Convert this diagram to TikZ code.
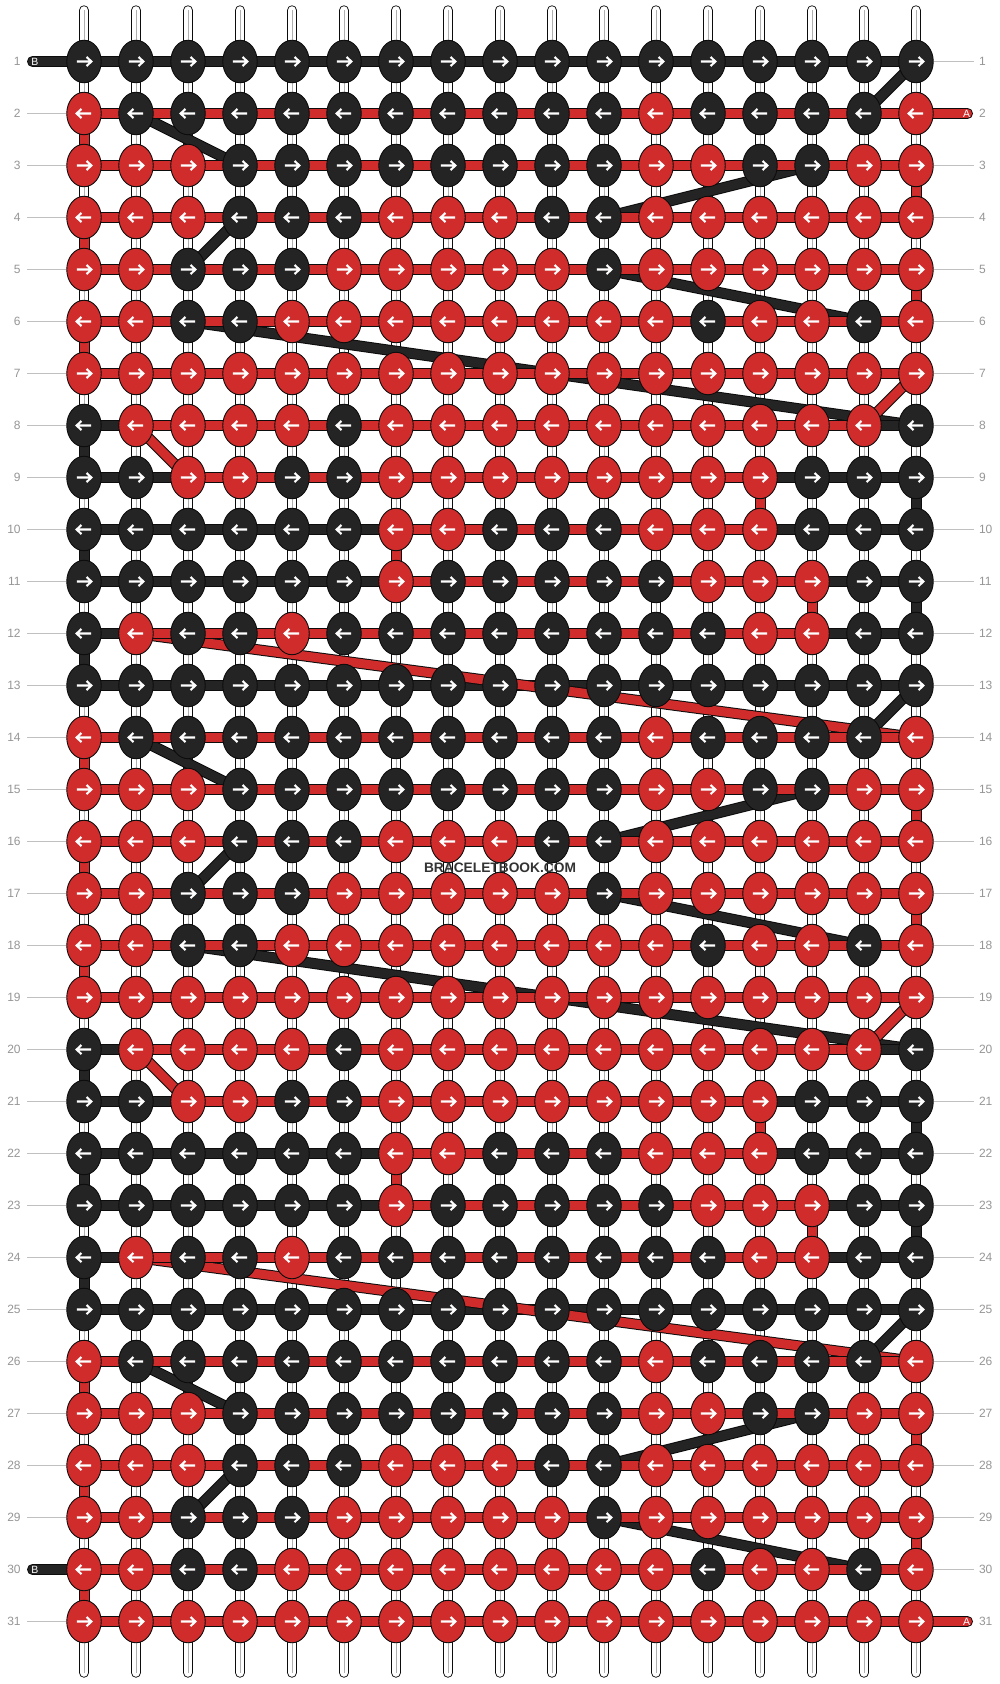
\documentclass[tikz,border=0pt]{standalone}
\usepackage{fontspec}
\setmainfont{Liberation Sans}
\usetikzlibrary{shapes.geometric}
\definecolor{kR}{RGB}{208,44,44}
\definecolor{kB}{RGB}{36,36,36}
\definecolor{outl}{RGB}{12,12,12}
\definecolor{numgray}{RGB}{150,150,150}
\definecolor{tickgray}{RGB}{192,192,192}
\definecolor{midgray}{RGB}{175,175,175}
\definecolor{wm}{RGB}{51,51,51}
\expandafter\def\csname pat1\endcsname{B,B,B,B,B,B,B,B,B,B,B,B,B,B,B,B,B}
\expandafter\def\csname pat2\endcsname{R,B,B,B,B,B,B,B,B,B,B,R,B,B,B,B,R}
\expandafter\def\csname pat3\endcsname{R,R,R,B,B,B,B,B,B,B,B,R,R,B,B,R,R}
\expandafter\def\csname pat4\endcsname{R,R,R,B,B,B,R,R,R,B,B,R,R,R,R,R,R}
\expandafter\def\csname pat5\endcsname{R,R,B,B,B,R,R,R,R,R,B,R,R,R,R,R,R}
\expandafter\def\csname pat6\endcsname{R,R,B,B,R,R,R,R,R,R,R,R,B,R,R,B,R}
\expandafter\def\csname pat7\endcsname{R,R,R,R,R,R,R,R,R,R,R,R,R,R,R,R,R}
\expandafter\def\csname pat8\endcsname{B,R,R,R,R,B,R,R,R,R,R,R,R,R,R,R,B}
\expandafter\def\csname pat9\endcsname{B,B,R,R,B,B,R,R,R,R,R,R,R,R,B,B,B}
\expandafter\def\csname pat10\endcsname{B,B,B,B,B,B,R,R,B,B,B,R,R,R,B,B,B}
\expandafter\def\csname pat11\endcsname{B,B,B,B,B,B,R,B,B,B,B,B,R,R,R,B,B}
\expandafter\def\csname pat12\endcsname{B,R,B,B,R,B,B,B,B,B,B,B,B,R,R,B,B}
\begin{document}
\begin{tikzpicture}[x=1pt,y=-1pt,
  knot/.style={ellipse, draw=outl, line width=0.9pt, minimum width=34.5pt, minimum height=42.5pt, inner sep=0pt},
  arr/.style={white, line width=2.1pt, line join=miter, line cap=butt},
  strand/.style={draw=outl, line width=0.9pt, double=white, double distance=8.4pt, line cap=round},
  strandmid/.style={draw=midgray, line width=0.7pt},
  lineB/.style={draw=outl, line width=1pt, double=kB, double distance=9pt, line cap=round},
  lineR/.style={draw=outl, line width=1pt, double=kR, double distance=9pt, line cap=round},
  tick/.style={draw=tickgray, line width=1pt},
  numL/.style={anchor=east, inner sep=0pt, text=numgray, font=\fontsize{12}{12}\selectfont},
  numR/.style={anchor=west, inner sep=0pt, text=numgray, font=\fontsize{12}{12}\selectfont},
  tailtxt/.style={inner sep=0pt, text=white, font=\fontsize{10.5}{10.5}\selectfont}
]
\fill[white] (0,0) rectangle (1000,1684);
\useasboundingbox (0,0) rectangle (1000,1684);
% grid coordinates
\foreach \r in {1,...,31} {
  \foreach \c in {1,...,17} {
    \coordinate (p-\r-\c) at ({32+52*\c},{9.5+52*\r});
  }
}
% vertical strings
\foreach \c in {1,...,17} {
  \coordinate (st-\c) at ({32+52*\c},10.4);
  \coordinate (sb-\c) at ({32+52*\c},1672.6);
  \draw[strand] (st-\c) -- (sb-\c);
  \draw[strandmid] (st-\c) -- (sb-\c);
}
% black connectors
\foreach \ra/\ca/\rb/\cb in {1/17/2/16, 2/2/3/4, 3/15/4/11, 4/4/5/3, 5/11/6/16, 6/3/8/17,
  8/1/9/1, 9/17/10/17, 10/1/11/1, 11/17/12/17, 12/1/13/1, 13/17/14/16,
  14/2/15/4, 15/15/16/11, 16/4/17/3, 17/11/18/16, 18/3/20/17,
  20/1/21/1, 21/17/22/17, 22/1/23/1, 23/17/24/17, 24/1/25/1, 25/17/26/16,
  26/2/27/4, 27/15/28/11, 28/4/29/3, 29/11/30/16}
  \draw[lineB] (p-\ra-\ca) -- (p-\rb-\cb);
% black bands
\coordinate (tB1) at (32.5,61.5);
\coordinate (tB30) at (32.5,1569.5);
\draw[lineB] (tB1) -- (p-1-17);
\draw[lineB] (tB30) -- (p-30-16);
\foreach \r/\a/\b in {2/2/16, 3/4/15, 4/4/11, 5/3/11, 6/3/16, 8/1/17, 9/1/17, 10/1/17, 11/1/17, 12/1/17,
  13/1/17, 14/2/16, 15/4/15, 16/4/11, 17/3/11, 18/3/16, 20/1/17, 21/1/17, 22/1/17, 23/1/17, 24/1/17,
  25/1/17, 26/2/16, 27/4/15, 28/4/11, 29/3/11}
  \draw[lineB] (p-\r-\a) -- (p-\r-\b);
% red connectors
\foreach \ra/\ca/\rb/\cb in {2/1/3/1, 3/17/4/17, 4/1/5/1, 5/17/6/17, 6/1/7/1, 7/17/8/16,
  8/2/9/3, 9/14/10/14, 10/7/11/7, 11/15/12/15, 12/2/14/17,
  14/1/15/1, 15/17/16/17, 16/1/17/1, 17/17/18/17, 18/1/19/1, 19/17/20/16,
  20/2/21/3, 21/14/22/14, 22/7/23/7, 23/15/24/15, 24/2/26/17,
  26/1/27/1, 27/17/28/17, 28/1/29/1, 29/17/30/17, 30/1/31/1}
  \draw[lineR] (p-\ra-\ca) -- (p-\rb-\cb);
% red bands
\coordinate (tA2) at (967.5,113.5);
\coordinate (tA31) at (967.5,1621.5);
\draw[lineR] (p-2-1) -- (tA2);
\draw[lineR] (p-31-1) -- (tA31);
\foreach \r/\a/\b in {3/1/17, 4/1/17, 5/1/17, 6/1/17, 7/1/17, 8/2/16, 9/3/14, 10/7/14, 11/7/15, 12/2/15,
  14/1/17, 15/1/17, 16/1/17, 17/1/17, 18/1/17, 19/1/17, 20/2/16, 21/3/14, 22/7/14, 23/7/15, 24/2/15,
  26/1/17, 27/1/17, 28/1/17, 29/1/17, 30/1/17}
  \draw[lineR] (p-\r-\a) -- (p-\r-\b);
% knots with arrows
\foreach \r in {1,...,31} {
  \pgfmathtruncatemacro\pidx{mod(\r-1,12)+1}
  \pgfmathtruncatemacro\dir{2*mod(\r,2)-1}
  \edef\curpat{\csname pat\pidx\endcsname}
  \foreach \v [count=\c] in \curpat {
    \node[knot, fill=k\v] (k-\r-\c) at (p-\r-\c) {};
    \draw[arr, shift={(k-\r-\c.center)}, xscale=\dir] (-7.2,0) -- (7.2,0) (2.6,-4.6) -- (7.3,0) -- (2.6,4.6);
  }
}
% row numbers and ticks
\foreach \r in {1,...,31} {
  \node[numL] (nl-\r) at (20.8,{9.5+52*\r}) {\r};
  \node[numR] (nr-\r) at (978.8,{9.5+52*\r}) {\r};
  \coordinate (tl-\r) at (27,{9.5+52*\r});
  \coordinate (tr-\r) at (974,{9.5+52*\r});
  \ifnum\r=1 \else\ifnum\r=30 \else \draw[tick] (tl-\r) -- (k-\r-1.west); \fi\fi
  \ifnum\r=2 \else\ifnum\r=31 \else \draw[tick] (k-\r-17.east) -- (tr-\r); \fi\fi
}
% tail letters
\node[tailtxt] (lb1) at (34.8,61.5) {B};
\node[tailtxt] (lb30) at (34.8,1569.5) {B};
\node[tailtxt] (la2) at (966.5,113.5) {A};
\node[tailtxt] (la31) at (966.5,1621.5) {A};
% watermark
\node[inner sep=0pt, text=wm, font=\bfseries\fontsize{13.75}{14}\selectfont] (wmk) at (500,867.5) {BRACELETBOOK.COM};
\end{tikzpicture}
\end{document}
